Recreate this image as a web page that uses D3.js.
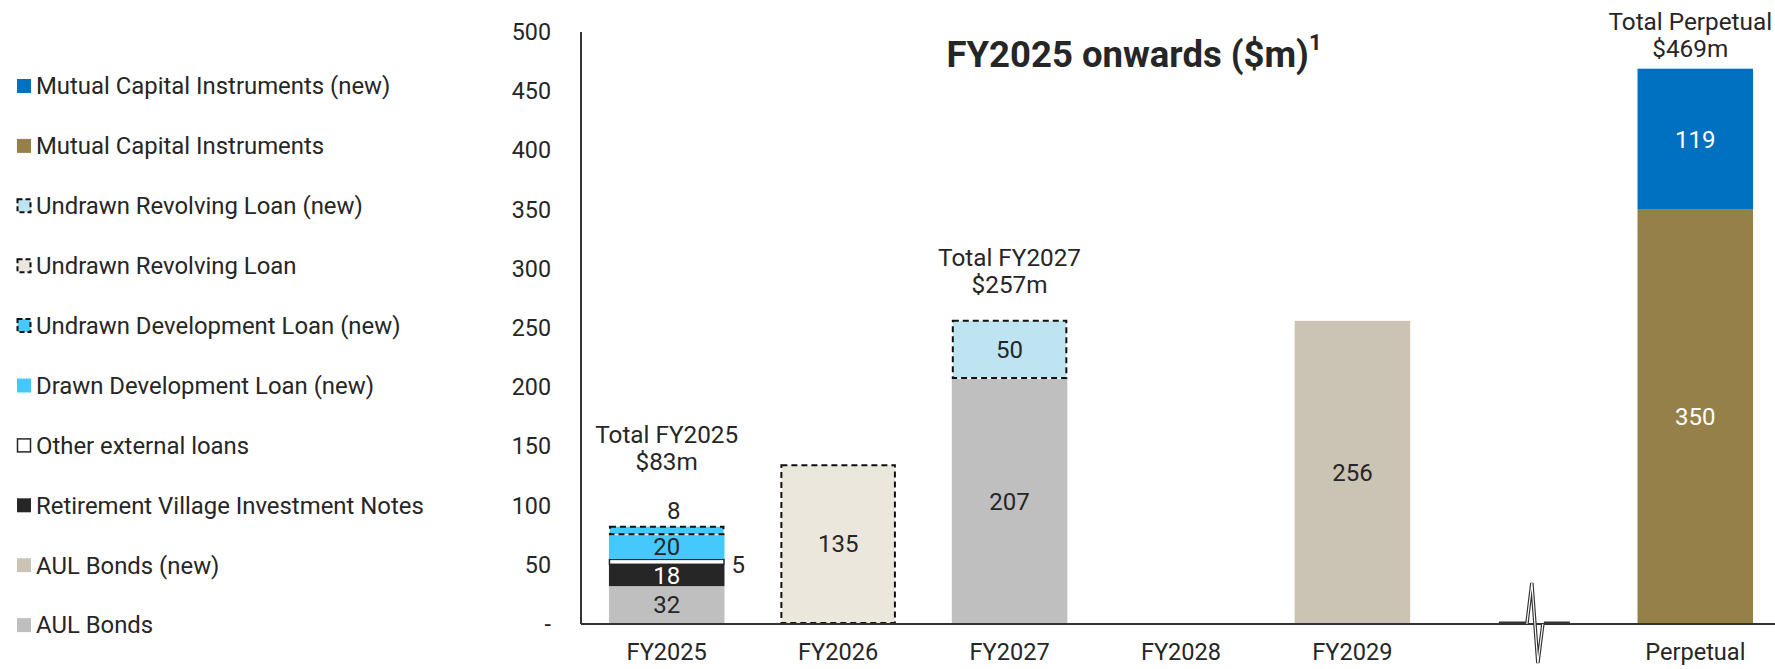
<!DOCTYPE html>
<html>
<head>
<meta charset="utf-8">
<script src="https://cdn.jsdelivr.net/npm/d3@7"></script>
<style>
  html, body { margin: 0; padding: 0; background: #fff; }
  svg { display: block; font-family: Roboto, "Noto Sans", sans-serif; }
</style>
</head>
<body>
<svg id="chart" width="1775" height="669"></svg>
<script>
// ---- data ----
const categories = ["FY2025", "FY2026", "FY2027", "FY2028", "FY2029", "", "Perpetual"];
const seriesNames = [
  "AUL Bonds",
  "AUL Bonds (new)",
  "Retirement Village Investment Notes",
  "Other external loans",
  "Drawn Development Loan (new)",
  "Undrawn Development Loan (new)",
  "Undrawn Revolving Loan",
  "Undrawn Revolving Loan (new)",
  "Mutual Capital Instruments",
  "Mutual Capital Instruments (new)"
];
const aulBonds         = [32, 0, 207, 0, 0,   0, 0];
const aulBondsNew      = [0,  0, 0,   0, 256, 0, 0];
const rvin             = [18, 0, 0,   0, 0,   0, 0];
const otherExternal    = [5,  0, 0,   0, 0,   0, 0];
const drawnDevNew      = [20, 0, 0,   0, 0,   0, 0];
const undrawnDevNew    = [8,  0, 0,   0, 0,   0, 0];
const undrawnRev       = [0,  135, 0, 0, 0,   0, 0];
const undrawnRevNew    = [0,  0, 50,  0, 0,   0, 0];
const mci              = [0,  0, 0,   0, 0,   0, 350];
const mciNew           = [0,  0, 0,   0, 0,   0, 119];
const totalLabels = [
  {cat: "FY2025", lines: ["Total FY2025", "$83m"]},
  {cat: "FY2027", lines: ["Total FY2027", "$257m"]},
  {cat: "Perpetual", lines: ["Total Perpetual", "$469m"]}
];
const yTicks = [0, 50, 100, 150, 200, 250, 300, 350, 400, 450, 500];
const titleText = "FY2025 onwards ($m)";
const titleSup = "1";

// ---- styles ----
const seriesValues = [aulBonds, aulBondsNew, rvin, otherExternal, drawnDevNew, undrawnDevNew, undrawnRev, undrawnRevNew, mci, mciNew];
const styles = {
  "AUL Bonds": {fill: "#BFBFBF", text: "#262626"},
  "AUL Bonds (new)": {fill: "#CBC3B4", text: "#262626"},
  "Retirement Village Investment Notes": {fill: "#262626", text: "#FFFFFF"},
  "Other external loans": {fill: "#FFFFFF", stroke: "#262626", text: "#262626", outline: true},
  "Drawn Development Loan (new)": {fill: "#45C9FD", text: "#262626"},
  "Undrawn Development Loan (new)": {fill: "#45C9FD", text: "#262626", dashed: true},
  "Undrawn Revolving Loan": {fill: "#EBE7DD", text: "#262626", dashed: true},
  "Undrawn Revolving Loan (new)": {fill: "#BEE3F1", text: "#262626", dashed: true},
  "Mutual Capital Instruments": {fill: "#958049", text: "#FFFFFF"},
  "Mutual Capital Instruments (new)": {fill: "#0070C0", text: "#FFFFFF"}
};
const textColor = "#262626";
const FS = 23.5;

const table = categories.map((c, i) => {
  const row = {cat: c};
  seriesNames.forEach((s, j) => row[s] = seriesValues[j][i]);
  return row;
});

const svg = d3.select("#chart");
const x = d3.scaleBand().domain(categories).range([581, 1781]).paddingInner(0.326).paddingOuter(0.163);
const y = d3.scaleLinear().domain([0, 500]).range([624, 32]);

const stack = d3.stack().keys(seriesNames)(table);

// bars
const gBars = svg.append("g");
stack.forEach(layer => {
  const name = layer.key;
  const st = styles[name];
  layer.forEach((d, i) => {
    const v = d[1] - d[0];
    if (v <= 0) return;
    const cat = categories[i];
    const x0 = x(cat), w = x.bandwidth();
    const yTop = y(d[1]), yBot = y(d[0]);
    const r = gBars.append("rect")
      .attr("x", x0).attr("y", yTop).attr("width", w).attr("height", yBot - yTop)
      .attr("fill", st.fill);
    if (st.dashed) {
      r.attr("x", x0 + 1).attr("width", w - 2).attr("y", yTop + 1).attr("height", yBot - yTop - 2)
       .attr("stroke", "#111").attr("stroke-width", 2).attr("stroke-dasharray", "6,4");
    }
    if (st.outline) {
      r.attr("x", x0 + 0.5).attr("width", w - 1).attr("y", yTop + 0.5).attr("height", yBot - yTop - 1)
       .attr("stroke", st.stroke).attr("stroke-width", 1.5);
    }
    // value labels
    let lx = x0 + w / 2, ly = (yTop + yBot) / 2, anchor = "middle", col = st.text;
    if (name === "Other external loans") { lx = x0 + w + 7; ly += 3; anchor = "start"; col = textColor; }
    else if (name === "Undrawn Development Loan (new)") { lx = x0 + w / 2 + 7; ly = yTop - 15; col = textColor; }
    gBars.append("text")
      .attr("x", lx).attr("y", ly).attr("dy", "0.35em")
      .attr("text-anchor", anchor).attr("font-size", FS + 0.5).attr("fill", col)
      .text(v);
  });
});

// totals
const totalOffsets = {"FY2025": 64, "FY2027": 35, "Perpetual": 20};
totalLabels.forEach(t => {
  const i = categories.indexOf(t.cat);
  const top = y(d3.sum(seriesValues, s => s[i]));
  const cx = x(t.cat) + x.bandwidth() / 2 + (t.cat === "Perpetual" ? -5 : 0);
  t.lines.forEach((ln, k) => {
    svg.append("text")
      .attr("x", cx).attr("y", top - totalOffsets[t.cat] - (t.lines.length - 1 - k) * 27.5)
      .attr("dy", "0.35em").attr("text-anchor", "middle")
      .attr("font-size", 24.3).attr("fill", textColor).text(ln);
  });
});

// y axis
const yAxis = d3.axisLeft(y).tickValues(yTicks).tickSize(0).tickPadding(30)
  .tickFormat(d => d === 0 ? "-" : d);
const gy = svg.append("g").attr("transform", "translate(581,0)").call(yAxis);
gy.select(".domain").attr("stroke", "#333").attr("stroke-width", 2).attr("d", `M0,${y(500)}V${y(0)}`);
gy.selectAll("text").attr("font-size", 23.3).attr("fill", textColor).attr("font-family", "Roboto, sans-serif");

// x axis
const xAxis = d3.axisBottom(x).tickSize(0).tickPadding(19);
const gx = svg.append("g").attr("transform", `translate(0,${y(0)})`).call(xAxis);
gx.select(".domain").attr("stroke", "#333").attr("stroke-width", 2).attr("d", `M581,0H1775`);
gx.selectAll("text").attr("font-size", 23.6).attr("fill", textColor).attr("font-family", "Roboto, sans-serif");

// axis break symbol
const bc = x("") + x.bandwidth() / 2 + 11;
const b0 = y(0);
svg.append("path").attr("d", `M${bc - 36},${b0 - 1}H${bc - 8}M${bc + 9},${b0 - 1}H${bc + 35}`)
  .attr("stroke", "#333").attr("stroke-width", 3).attr("fill", "none");
const spike = `M${bc - 8},${b0}L${bc - 3},${b0 - 41}L${bc + 3},${b0 + 39}L${bc + 8},${b0}`;
svg.append("path").attr("d", spike).attr("stroke", "#333").attr("stroke-width", 3.5).attr("fill", "none").attr("stroke-linejoin", "miter");
svg.append("path").attr("d", spike).attr("stroke", "#fff").attr("stroke-width", 1.2).attr("fill", "none").attr("stroke-linejoin", "miter");

// title
const title = svg.append("text").attr("x", 1134).attr("y", 54).attr("dy", "0.35em")
  .attr("text-anchor", "middle").attr("font-size", 36.5).attr("font-weight", "bold").attr("fill", textColor);
title.append("tspan").text(titleText);
title.append("tspan").attr("font-size", 22).attr("dy", "-0.75em").text(titleSup);

// legend
const legendOrder = seriesNames.slice().reverse();
const lg = svg.append("g");
legendOrder.forEach((name, k) => {
  const cy = 86 + k * 59.9;
  const st = styles[name];
  const sq = lg.append("rect").attr("x", 17).attr("y", cy - 7).attr("width", 14).attr("height", 14).attr("fill", st.fill);
  if (st.dashed) sq.attr("stroke", "#111").attr("stroke-width", 2).attr("stroke-dasharray", "5,3").attr("x", 17.5).attr("y", cy - 6.5).attr("width", 13).attr("height", 13);
  if (st.outline) sq.attr("stroke", "#262626").attr("stroke-width", 1.5).attr("x", 17.5).attr("y", cy - 6.5).attr("width", 13).attr("height", 13);
  lg.append("text").attr("x", 36).attr("y", cy).attr("dy", "0.35em")
    .attr("font-size", 23.9).attr("fill", textColor).text(name);
});
</script>
</body>
</html>
